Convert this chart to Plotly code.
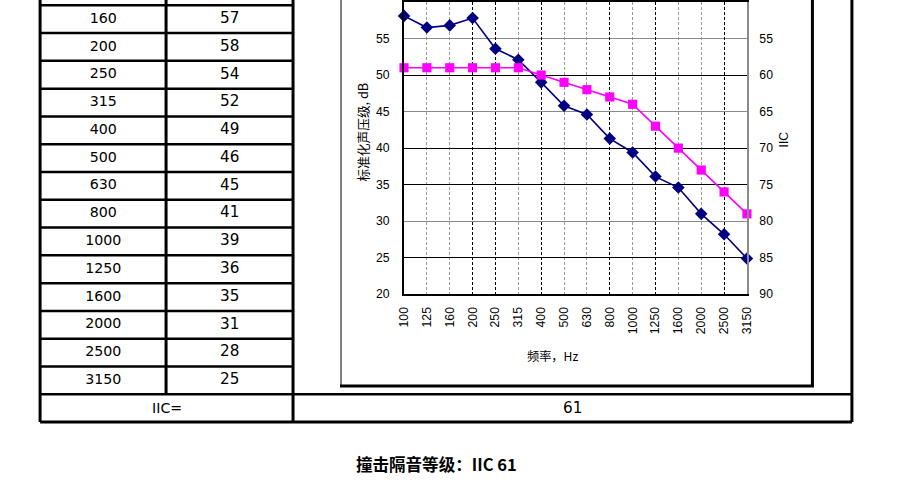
import plotly.graph_objects as go

# ---------------- data ----------------
freqs = ["100", "125", "160", "200", "250", "315", "400", "500", "630",
         "800", "1000", "1250", "1600", "2000", "2500", "3150"]
measured = [58.1, 56.5, 56.8, 57.8, 53.6, 52.1, 49.0, 45.8, 44.6,
            41.3, 39.4, 36.1, 34.6, 31.0, 28.2, 24.9]
reference = [51, 51, 51, 51, 51, 51, 50, 49, 48, 47, 46, 43, 40, 37, 34, 31]

table_freqs = ["160", "200", "250", "315", "400", "500", "630", "800",
               "1000", "1250", "1600", "2000", "2500", "3150"]
table_vals = [57, 58, 54, 52, 49, 46, 45, 41, 39, 36, 35, 31, 28, 25]
iic_value = 61

left_ticks = [20, 25, 30, 35, 40, 45, 50, 55, 60]
right_ticks = [50, 55, 60, 65, 70, 75, 80, 85, 90]
dark_hgrid = [25, 35, 40, 50]
dark_vgrid = [3, 4, 6, 9, 11, 14]

# ---------------- layout helpers ----------------
W, H = 920, 483
# the captured page appears slightly shrunk; compensate
S = 0.985
CX = W / 2
FS = 1 / S  # font compensation


def px(x):
    return (CX + (x - CX) / S) / W


def py(y):
    return 1 - (y / S) / H


def f(s):
    return s * FS


TABLE_TOP = 3.3
ROW_H = 27.89
n_rows = len(table_freqs)

PLOT_BOTTOM = 293.3

tick_font = dict(family="Liberation Sans, Arial", size=f(12), color="black")
table_font = dict(family="DejaVu Sans, Verdana", size=f(14), color="black")
table_font2 = dict(family="DejaVu Sans, Verdana", size=f(15), color="black")
cjk = "Noto Sans CJK SC"

fig = go.Figure()

# main chart
fig.add_trace(go.Scatter(
    x=list(range(len(freqs))), y=measured, mode="lines+markers",
    line=dict(color="#000080", width=1.6),
    marker=dict(symbol="diamond", size=f(9.5), color="#000080"),
    cliponaxis=False, showlegend=False, hoverinfo="skip"))
fig.add_trace(go.Scatter(
    x=list(range(len(freqs))), y=reference, mode="lines+markers",
    line=dict(color="#FF00FF", width=1.6),
    marker=dict(symbol="square", size=f(9), color="#FF00FF"),
    cliponaxis=False, showlegend=False, hoverinfo="skip"))
# right IIC axis carrier
fig.add_trace(go.Scatter(x=[0], y=[None], yaxis="y2", xaxis="x",
                         showlegend=False, hoverinfo="skip"))
# dark grid overlay carrier
fig.add_trace(go.Scatter(x=[0], y=[None], xaxis="x3", yaxis="y3",
                         showlegend=False, hoverinfo="skip"))

# table text
fig.add_trace(go.Scatter(
    x=[0.5] * n_rows, y=[i + 0.5 for i in range(n_rows)], text=table_freqs,
    mode="text", textfont=table_font, xaxis="x4", yaxis="y4",
    showlegend=False, hoverinfo="skip"))
fig.add_trace(go.Scatter(
    x=[1.5] * n_rows, y=[i + 0.5 for i in range(n_rows)],
    text=[str(v) for v in table_vals], mode="text", textfont=table_font2,
    xaxis="x4", yaxis="y4", showlegend=False, hoverinfo="skip"))

x_dom = [px(404), px(747)]
y_dom = [py(PLOT_BOTTOM), 1]
n_last = len(freqs) - 1

fig.update_layout(
    autosize=True,
    margin=dict(l=0, r=0, t=0, b=0, pad=0),
    paper_bgcolor="white", plot_bgcolor="white",
    xaxis=dict(domain=x_dom, range=[0, n_last], anchor="y",
               tickmode="array", tickvals=list(range(len(freqs))),
               ticktext=freqs, tickangle=-90, tickfont=tick_font,
               ticks="", ticklabelstandoff=6,
               showgrid=True, gridcolor="#9a9a9a", gridwidth=1,
               griddash="3px,2px", zeroline=False,
               showline=True, linecolor="black", linewidth=2, mirror=True),
    yaxis=dict(domain=y_dom, range=[20, 60], anchor="x",
               tickmode="array", tickvals=left_ticks, tickfont=tick_font,
               ticks="", ticklabelstandoff=10,
               showgrid=True, gridcolor="#8a8a8a", gridwidth=1,
               zeroline=False, showline=True, linecolor="black",
               linewidth=2),
    yaxis2=dict(overlaying="y", side="right", anchor="x", range=[90, 50],
                tickmode="array", tickvals=right_ticks, tickfont=tick_font,
                ticks="", ticklabelstandoff=8,
                showgrid=False, zeroline=False, showline=True,
                linecolor="#8a8a8a", linewidth=2),
    xaxis3=dict(overlaying="x", anchor="y3", range=[0, n_last],
                tickmode="array", tickvals=dark_vgrid,
                showticklabels=False, ticks="", showgrid=True,
                gridcolor="black", gridwidth=1, griddash="3px,2px",
                zeroline=False, showline=False),
    yaxis3=dict(overlaying="y", anchor="x3", range=[20, 60],
                tickmode="array", tickvals=dark_hgrid,
                showticklabels=False, ticks="", showgrid=True,
                gridcolor="black", gridwidth=1, zeroline=False,
                showline=False),
    xaxis4=dict(domain=[px(40), px(293)], range=[0, 2], anchor="y4",
                visible=False),
)

# table axis: rows of height ROW_H starting at TABLE_TOP (ref pixels)
tab_bottom_ref = TABLE_TOP + (n_rows + 1) * ROW_H
fig.update_layout(yaxis4=dict(domain=[py(tab_bottom_ref), 1],
                              range=[n_rows + 1, -TABLE_TOP / ROW_H],
                              anchor="x4", visible=False))

shapes = []


def vline(x, y0, y1, w=3, color="black"):
    shapes.append(dict(type="line", xref="paper", yref="paper",
                       x0=px(x), x1=px(x), y0=py(y0), y1=py(y1),
                       line=dict(color=color, width=w)))


def hline(y, x0, x1, w=2.5, color="black"):
    shapes.append(dict(type="line", xref="paper", yref="paper",
                       x0=px(x0), x1=px(x1), y0=py(y), y1=py(y),
                       line=dict(color=color, width=w)))


row_y = [TABLE_TOP + k * ROW_H for k in range(n_rows + 2)]
table_bottom = row_y[-1]
for k in range(n_rows):
    hline(row_y[k], 40, 293)
hline(row_y[n_rows], 40, 852)
hline(row_y[n_rows + 1], 40, 852, w=3)
vline(40, -2, table_bottom)
vline(166, -2, row_y[n_rows])
vline(293, -2, table_bottom)
vline(852, -2, table_bottom)

# chart frame (with shadow-like heavy right/bottom edges)
vline(341, -2, 386, w=1.5, color="#555555")
vline(812.5, -2, 386, w=3)
hline(385.5, 340, 814, w=3)

fig.update_layout(shapes=shapes)

iic_row_mid = (row_y[n_rows] + row_y[n_rows + 1]) / 2
annotations = [
    dict(text="IIC=", x=px(166.5), y=py(iic_row_mid), font=table_font),
    dict(text=str(iic_value), x=px(572.5), y=py(iic_row_mid),
         font=table_font2),
    dict(text=f"<b>撞击隔音等级：IIC {iic_value}</b>", x=px(436), y=py(464),
         font=dict(family=cjk, size=f(16.3), color="black")),
    dict(text="标准化声压级, dB", x=px(362), y=py(131), textangle=-90,
         font=dict(family=cjk, size=f(12.5), color="black")),
    dict(text="IIC", x=px(785), y=py(138), textangle=-90,
         font=dict(family="Liberation Sans, Arial", size=f(12),
                   color="black")),
    dict(text="频率，Hz", x=px(553), y=py(355),
         font=dict(family=cjk, size=f(12), color="black")),
]
for a in annotations:
    a.update(xref="paper", yref="paper", showarrow=False,
             xanchor="center", yanchor="middle")
fig.update_layout(annotations=annotations)

fig.write_html(
    "out.html",
    config={"displayModeBar": False, "responsive": True},
    default_width="100vw", default_height="100vh",
    post_script="document.body.style.margin='0';"
                "document.body.style.overflow='hidden';"
                "Plotly.Plots.resize(document.getElementById('{plot_id}'));")
